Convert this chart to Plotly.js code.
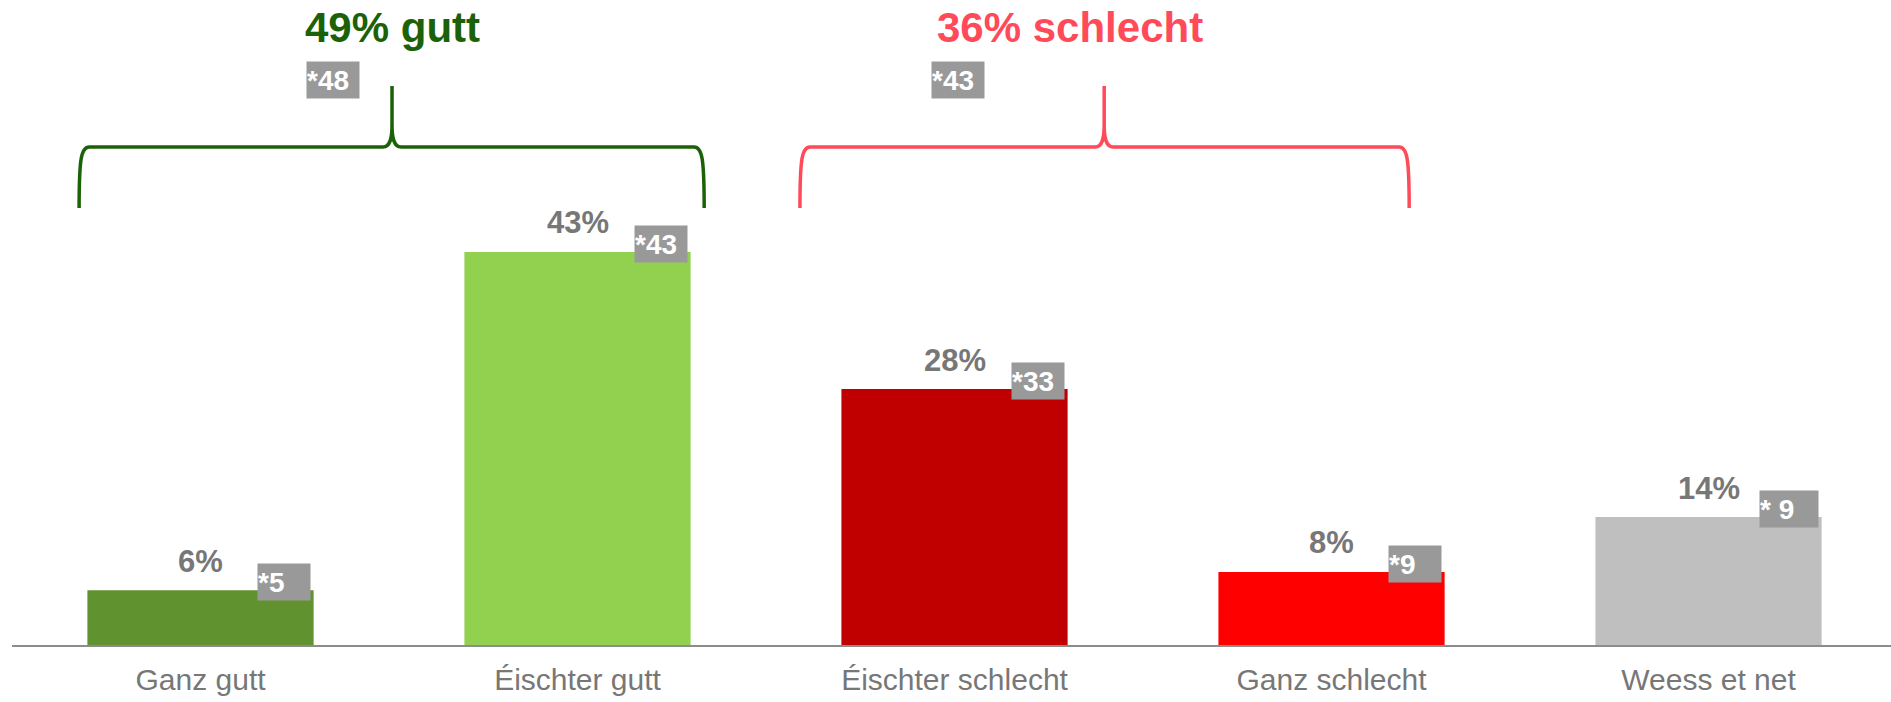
<!DOCTYPE html>
<html><head><meta charset="utf-8">
<script src="https://cdn.plot.ly/plotly-3.0.1.min.js"></script>
<style>html,body{margin:0;padding:0;background:#fff}#chart{width:1891px;height:702px}</style>
</head><body><div id="chart"></div>
<script>
const categories = ["Ganz gutt", "Éischter gutt", "Éischter schlecht", "Ganz schlecht", "Weess et net"];
const values = [6, 43, 28, 8, 14];
const valueLabels = ["6%", "43%", "28%", "8%", "14%"];
const prevLabels = ["*5 ", "*43", "*33", "*9", "* 9"];
const barColors = ["#60922f", "#92d050", "#c00000", "#ff0000", "#bfbfbf"];
const groupTitles = ["49% gutt", "36% schlecht"];
const groupPrev = ["*48", "*43"];
const groupColors = ["#1b6108", "#ff4a5a"];
// brace extents in category units [left, peak, right]
const braceSpans = [[-0.322, 0.508, 1.336], [1.59, 2.397, 3.206]];
const groupTitleX = [0.508, 2.306];
const groupPrevX = [0.351, 2.009];

const FONT = "Liberation Sans, Arial, sans-serif";
const yTop = 70.57;
const xRange = [-0.5, 4.484];
const pxY = yTop / 645; // data units per pixel vertically
const pxX = (xRange[1] - xRange[0]) / 1879;

const annotations = [];
values.forEach((v, i) => {
  annotations.push({x: i, y: v, xref: 'x', yref: 'y', text: '<b>' + valueLabels[i] + '</b>',
    showarrow: false, yshift: 29, yanchor: 'middle', xanchor: 'center',
    font: {family: FONT, size: 31, color: '#777777'}});
  annotations.push({x: i + 0.3, y: v, xref: 'x', yref: 'y', text: '<b>' + prevLabels[i] + '</b>',
    showarrow: false, xanchor: 'right', yanchor: 'top', xshift: -3, yshift: 27,
    width: prevLabels[i] === '* 9' ? 58 : 52, height: 36, borderpad: 0, align: 'left',
    bgcolor: '#999999', font: {family: FONT, size: 28, color: '#ffffff'}});
});

const yB = (645 - 208) * pxY, yL = (645 - 147) * pxY, yT = (645 - 86) * pxY;
const shapes = [];
braceSpans.forEach((s, g) => {
  const [x0, xm, x1] = s;
  const rh = 10 * pxX, rv = 12 * pxY, cv = 22 * pxY, mh = 9 * pxX;
  const p = `M ${x0},${yB} C ${x0},${yL - rv} ${x0 + rh*0.2},${yL} ${x0 + rh},${yL} ` +
    `L ${xm - mh},${yL} C ${xm - mh*0.2},${yL} ${xm},${yL + cv*0.4} ${xm},${yL + cv} L ${xm},${yT} ` +
    `M ${xm},${yL + cv} C ${xm},${yL + cv*0.4} ${xm + mh*0.2},${yL} ${xm + mh},${yL} ` +
    `L ${x1 - rh},${yL} C ${x1 - rh*0.2},${yL} ${x1},${yL - rv} ${x1},${yB}`;
  shapes.push({type: 'path', xref: 'x', yref: 'y', path: p, line: {color: groupColors[g], width: 3.5}});
  annotations.push({x: groupTitleX[g], y: (645 - 27) * pxY, xref: 'x', yref: 'y', text: '<b>' + groupTitles[g] + '</b>',
    showarrow: false, xanchor: 'center', yanchor: 'middle', font: {family: FONT, size: 42, color: groupColors[g]}});
  annotations.push({x: groupPrevX[g], y: (645 - 80) * pxY, xref: 'x', yref: 'y', text: '<b>' + groupPrev[g] + '</b>',
    showarrow: false, xanchor: 'center', yanchor: 'middle', width: 52, height: 36, borderpad: 0, align: 'left',
    bgcolor: '#999999', font: {family: FONT, size: 28, color: '#ffffff'}});
});

Plotly.newPlot('chart', [{
  type: 'bar', x: categories, y: values, marker: {color: barColors}, hoverinfo: 'skip'
}], {
  width: 1891, height: 702,
  margin: {l: 12, r: 0, t: 0, b: 57},
  paper_bgcolor: '#fff', plot_bgcolor: '#fff',
  bargap: 0.4, showlegend: false,
  xaxis: {type: 'category', range: xRange, showline: true, linecolor: '#8c8c8c', linewidth: 2,
    ticks: 'outside', ticklen: 7, tickcolor: 'rgba(0,0,0,0)', showgrid: false, zeroline: false,
    tickfont: {family: FONT, size: 30, color: '#777777'}},
  yaxis: {range: [0, yTop], visible: false, showgrid: false, zeroline: false},
  annotations: annotations, shapes: shapes
}, {displayModeBar: false, staticPlot: true});
</script></body></html>
